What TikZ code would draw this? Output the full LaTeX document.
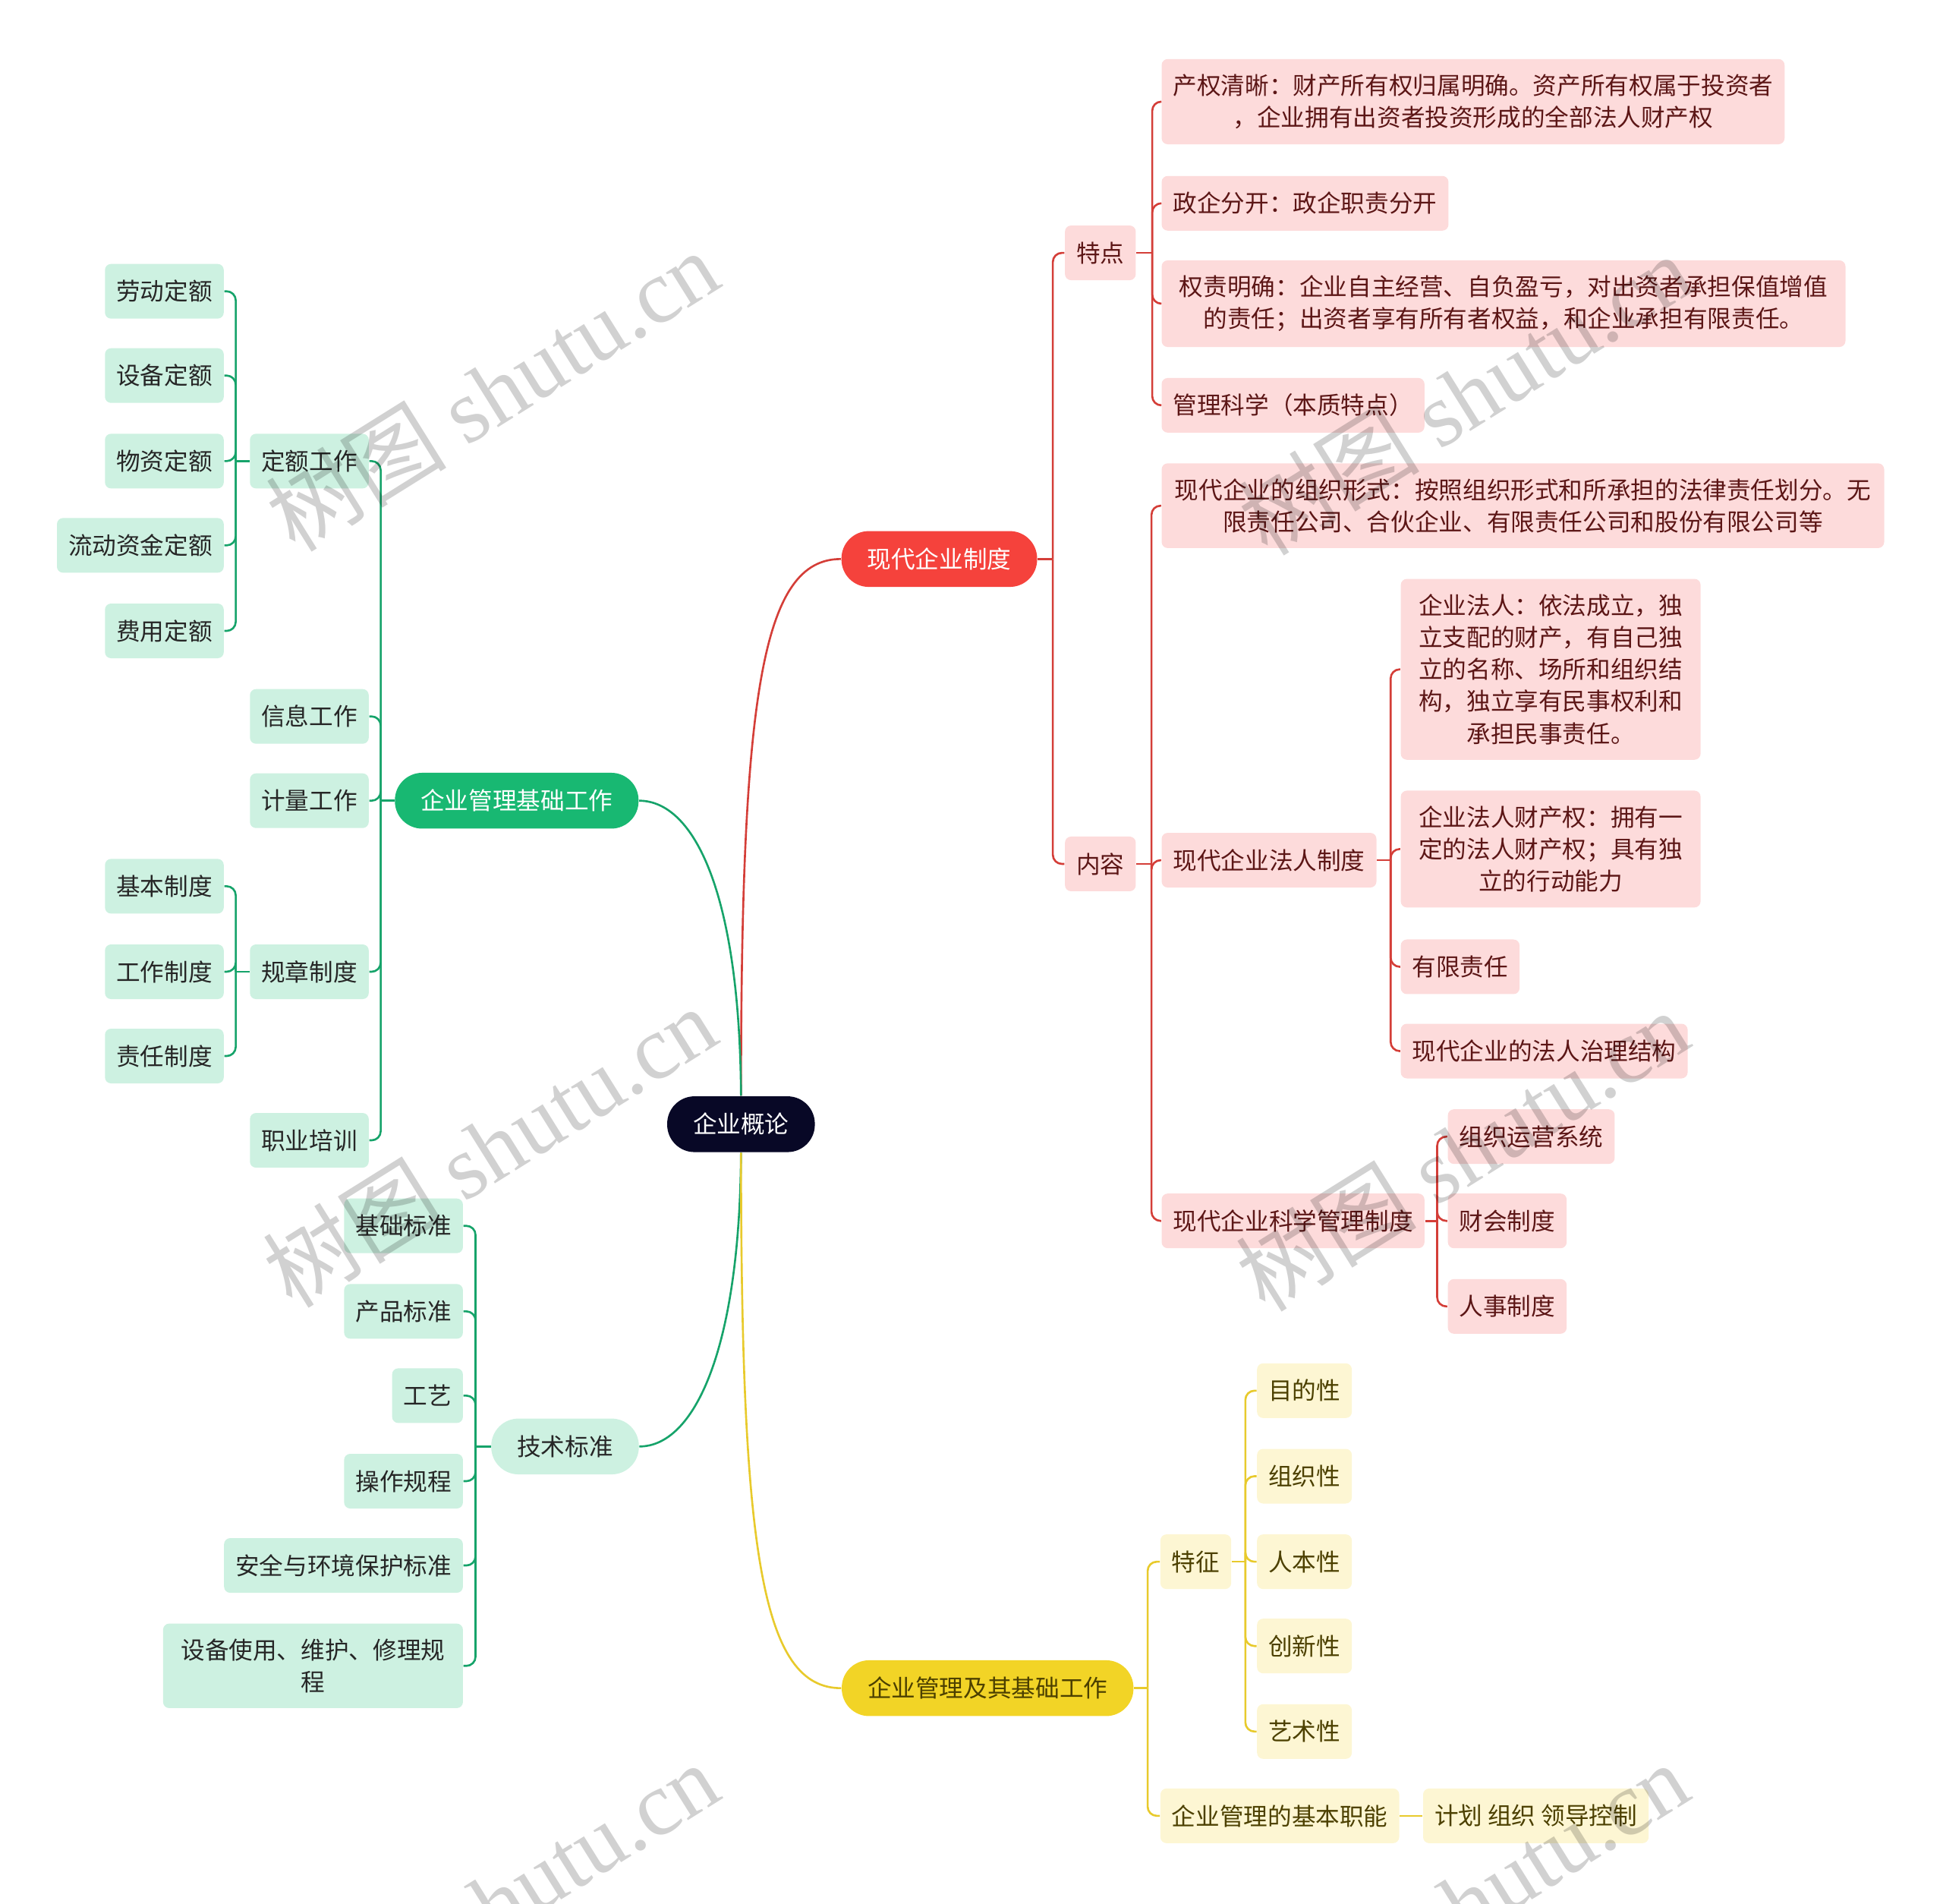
\documentclass[tikz,border=0pt]{standalone}
\usepackage{fontspec}
\setmainfont{Noto Sans CJK SC}
\newfontfamily\markfont{Liberation Serif}
\usetikzlibrary{positioning, calc}
\definecolor{rootnavy}{RGB}{8, 8, 38}
\definecolor{firmred}{RGB}{245, 66, 60}
\definecolor{firmredline}{RGB}{212, 62, 56}
\definecolor{firmpink}{RGB}{253, 219, 219}
\definecolor{firmmaroon}{RGB}{92, 22, 22}
\definecolor{basegreen}{RGB}{24, 184, 114}
\definecolor{basegreenline}{RGB}{22, 163, 106}
\definecolor{mint}{RGB}{205, 241, 225}
\definecolor{mgtyellow}{RGB}{242, 212, 38}
\definecolor{mgtyellowline}{RGB}{232, 202, 44}
\definecolor{cream}{RGB}{253, 246, 211}
\definecolor{olive}{RGB}{76, 64, 0}

\begin{document}
\begin{tikzpicture}[x=0.16327mm, y=-0.16327mm,
    every node/.style={font=\fontsize{9pt}{12pt}\selectfont, align=center},
    pill/.style={rounded corners=3.6mm, minimum height=7.35mm, inner xsep=3.4mm, inner ysep=1.6mm},
    box/.style={rounded corners=0.8mm, minimum height=7.2mm, inner xsep=1.5mm, inner ysep=2mm},
    redbox/.style={box, fill=firmpink, text=firmmaroon},
    greenbox/.style={box, fill=mint, text=black!85},
    yellowbox/.style={box, fill=cream, text=olive},
    redlink/.style={draw=firmredline, line width=0.75pt},
    greenlink/.style={draw=basegreenline, line width=0.75pt},
    yellowlink/.style={draw=mgtyellowline, line width=0.75pt},
    fork/.style={rounded corners=1.2mm},
    watermark/.style={text=black, opacity=0.18, rotate=32, font=\fontsize{34pt}{34pt}\selectfont}]

    \useasboundingbox (0,0) rectangle (1568,1536);

    % centre and main branches
    \node[pill, fill=rootnavy, text=white] (concept) at (598,907) {企业概论};
    \node[pill, fill=firmred, text=white] (modern) at (758,451) {现代企业制度};
    \node[pill, fill=basegreen, text=white] (basework) at (417,646) {企业管理基础工作};
    \node[pill, fill=mint, text=black!85] (techstd) at (456,1167) {技术标准};
    \node[pill, fill=mgtyellow, text=olive] (mgt) at (797,1362) {企业管理及其基础工作};

    \draw[redlink] (concept.north) .. controls (598,560) and (615,451) .. (modern.west);
    \draw[greenlink] (concept.north) .. controls (597,720) and (560,646) .. (basework.east);
    \draw[greenlink] (concept.south) .. controls (597,1090) and (560,1167) .. (techstd.east);
    \draw[yellowlink] (concept.south) .. controls (598,1254) and (615,1362) .. (mgt.west);

    % modern enterprise system
    \node[redbox, anchor=west] (feat) at (859,204) {特点};
    \node[redbox, anchor=west] (content) at (859,697) {内容};
    \coordinate (modernfork) at ([xshift=2mm]modern.east);
    \draw[redlink] (modern.east) -- (modernfork);
    \draw[redlink, fork] (modernfork) |- (feat.west);
    \draw[redlink, fork] (modernfork) |- (content.west);

    \node[redbox, anchor=west, minimum width=81.8mm] (feat1) at (937,82) {产权清晰：财产所有权归属明确。资产所有权属于投资者\\，企业拥有出资者投资形成的全部法人财产权};
    \node[redbox, anchor=west] (feat2) at (937,164) {政企分开：政企职责分开};
    \node[redbox, anchor=west, minimum width=90.1mm] (feat3) at (937,245) {权责明确：企业自主经营、自负盈亏，对出资者承担保值增值\\的责任；出资者享有所有者权益，和企业承担有限责任。};
    \node[redbox, anchor=west] (feat4) at (937,327) {管理科学（本质特点）};
    \coordinate (featfork) at ([xshift=2.1mm]feat.east);
    \draw[redlink] (feat.east) -- (featfork);
    \foreach \i in {1,...,4}
        \draw[redlink, fork] (featfork) |- (feat\i.west);

    \node[redbox, anchor=west, minimum width=95.2mm] (orgform) at (937,408) {现代企业的组织形式：按照组织形式和所承担的法律责任划分。无\\限责任公司、合伙企业、有限责任公司和股份有限公司等};
    \node[redbox, anchor=west] (legal) at (937,694) {现代企业法人制度};
    \node[redbox, anchor=west] (science) at (937,985) {现代企业科学管理制度};
    \coordinate (contentfork) at ([xshift=2mm]content.east);
    \draw[redlink] (content.east) -- (contentfork);
    \foreach \name in {orgform, legal, science}
        \draw[redlink, fork] (contentfork) |- (\name.west);

    \node[redbox, anchor=west, minimum width=39.5mm] (legal1) at (1130,540) {企业法人：依法成立，独\\立支配的财产，有自己独\\立的名称、场所和组织结\\构，独立享有民事权利和\\承担民事责任。};
    \node[redbox, anchor=west, minimum width=39.5mm] (legal2) at (1130,685) {企业法人财产权：拥有一\\定的法人财产权；具有独\\立的行动能力};
    \node[redbox, anchor=west] (legal3) at (1130,780) {有限责任};
    \node[redbox, anchor=west] (legal4) at (1130,848) {现代企业的法人治理结构};
    \coordinate (legalfork) at ([xshift=1.8mm]legal.east);
    \draw[redlink] (legal.east) -- (legalfork);
    \foreach \i in {1,...,4}
        \draw[redlink, fork] (legalfork) |- (legal\i.west);

    \foreach \name/\y/\txt in {sci1/917/组织运营系统, sci2/985/财会制度, sci3/1054/人事制度}
        \node[redbox, anchor=west] (\name) at (1168,\y) {\txt};
    \coordinate (sciencefork) at ([xshift=1.6mm]science.east);
    \draw[redlink] (science.east) -- (sciencefork);
    \foreach \i in {1,...,3}
        \draw[redlink, fork] (sciencefork) |- (sci\i.west);

    % management and its basic work
    \node[yellowbox, anchor=west] (trait) at (936,1260) {特征};
    \node[yellowbox, anchor=west] (func) at (936,1465) {企业管理的基本职能};
    \coordinate (mgtfork) at ([xshift=1.8mm]mgt.east);
    \draw[yellowlink] (mgt.east) -- (mgtfork);
    \draw[yellowlink, fork] (mgtfork) |- (trait.west);
    \draw[yellowlink, fork] (mgtfork) |- (func.west);

    \foreach \name/\y/\txt in {trait1/1122/目的性, trait2/1191/组织性, trait3/1260/人本性, trait4/1328/创新性, trait5/1397/艺术性}
        \node[yellowbox, anchor=west] (\name) at (1014,\y) {\txt};
    \coordinate (traitfork) at ([xshift=1.8mm]trait.east);
    \draw[yellowlink] (trait.east) -- (traitfork);
    \foreach \i in {1,...,5}
        \draw[yellowlink, fork] (traitfork) |- (trait\i.west);

    \node[yellowbox, anchor=west] (funcitems) at (1148,1465) {计划 组织 领导控制};
    \draw[yellowlink] (func.east) -- (funcitems.west);

    % basic management work
    \foreach \name/\y/\txt in {quota/372/定额工作, info/578/信息工作, measure/646/计量工作, rules/784/规章制度, training/920/职业培训}
        \node[greenbox, anchor=east] (\name) at (298,\y) {\txt};
    \coordinate (baseworkfork) at ([xshift=-1.8mm]basework.west);
    \draw[greenlink] (basework.west) -- (baseworkfork);
    \foreach \name in {quota, info, measure, rules, training}
        \draw[greenlink, fork] (baseworkfork) |- (\name.east);

    \foreach \name/\y/\txt in {quota1/235/劳动定额, quota2/303/设备定额, quota3/372/物资定额, quota4/440/流动资金定额, quota5/509/费用定额}
        \node[greenbox, anchor=east] (\name) at (181,\y) {\txt};
    \coordinate (quotafork) at ([xshift=-1.8mm]quota.west);
    \draw[greenlink] (quota.west) -- (quotafork);
    \foreach \i in {1,...,5}
        \draw[greenlink, fork] (quotafork) |- (quota\i.east);

    \foreach \name/\y/\txt in {rule1/715/基本制度, rule2/784/工作制度, rule3/852/责任制度}
        \node[greenbox, anchor=east] (\name) at (181,\y) {\txt};
    \coordinate (rulesfork) at ([xshift=-1.8mm]rules.west);
    \draw[greenlink] (rules.west) -- (rulesfork);
    \foreach \i in {1,...,3}
        \draw[greenlink, fork] (rulesfork) |- (rule\i.east);

    % technical standards
    \foreach \name/\y/\txt in {tech1/989/基础标准, tech2/1058/产品标准, tech3/1126/工艺, tech4/1195/操作规程, tech5/1263/安全与环境保护标准}
        \node[greenbox, anchor=east] (\name) at (374,\y) {\txt};
    \node[greenbox, anchor=east, minimum width=39.5mm] (tech6) at (374,1344) {设备使用、维护、修理规\\程};
    \coordinate (techfork) at ([xshift=-2mm]techstd.west);
    \draw[greenlink] (techstd.west) -- (techfork);
    \foreach \i in {1,...,6}
        \draw[greenlink, fork] (techfork) |- (tech\i.east);

    % watermarks
    \foreach \name/\x/\y in {markA/397/315, markB/395/925, markC/397/1535, markD/1182/318, markE/1180/928, markF/1180/1535}
        \node[watermark] (\name) at (\x,\y) {树图 {\markfont shutu.cn}};
\end{tikzpicture}
\end{document}
